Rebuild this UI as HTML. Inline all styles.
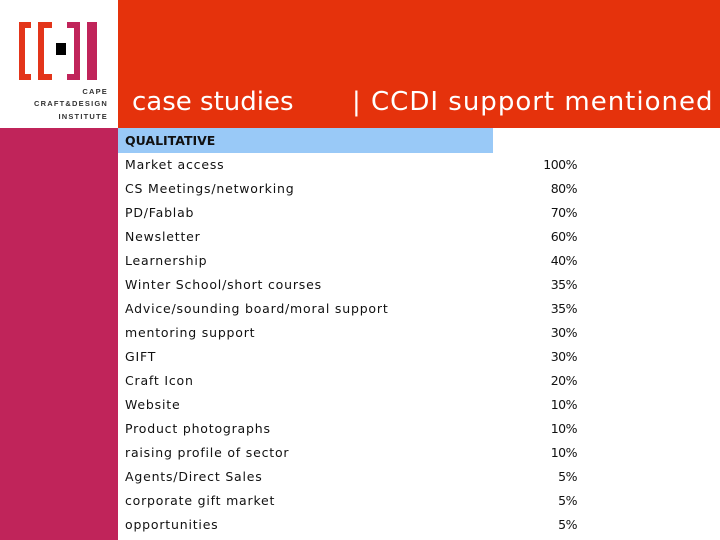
<!DOCTYPE html>
<html><head><meta charset="utf-8"><style>
body{margin:0;width:720px;height:540px;position:relative;overflow:hidden;background:#fff;font-family:"DejaVu Sans",sans-serif}
.abs{position:absolute}
.row{position:absolute;left:125px;width:452px;height:24px;font-size:12.5px;color:#111;line-height:24px;letter-spacing:0.8px}
.row .v{position:absolute;right:0;top:0;letter-spacing:-0.5px}
</style></head><body>
<div class="abs" style="left:0;top:0;width:118px;height:128px;background:#fff">
 <svg width="118" height="128">
  <path d="M19 22h12v6h-6v46h6v6h-12z" fill="#e3351a"/>
  <path d="M38 22h14v6h-8v46h8v6h-14z" fill="#e3351a"/>
  <rect x="56" y="43" width="10" height="12" fill="#000"/>
  <path d="M67 22h13v58h-13v-6h7v-46h-7z" fill="#c0245a"/>
  <rect x="87" y="22" width="10" height="58" fill="#c0245a"/>
  <g font-size="7.5" fill="#333" text-anchor="end" letter-spacing="1.2" font-family="Liberation Sans" font-weight="bold">
   <text x="108" y="94">CAPE</text>
   <text x="108" y="106">CRAFT&amp;DESIGN</text>
   <text x="108" y="119">INSTITUTE</text>
  </g>
 </svg>
</div>
<div class="abs" style="left:118px;top:0;width:602px;height:128px;background:#e5320c"></div>
<div class="abs" style="left:132px;top:87px;color:#fff;font-size:26px;white-space:nowrap">case studies</div>
<div class="abs" style="left:352px;top:87px;color:#fff;font-size:26px;white-space:nowrap;letter-spacing:1px">| CCDI support mentioned</div>
<div class="abs" style="left:0;top:128px;width:118px;height:412px;background:#c0245a"></div>
<div class="abs" style="left:118px;top:128px;width:375px;height:25px;background:#99c9f7;font-size:12.5px;font-weight:bold;line-height:25px;padding-left:7px;box-sizing:border-box;color:#111">QUALITATIVE</div>
<div id="rows"></div>
<script>
const labels=["Market access","CS Meetings/networking","PD/Fablab","Newsletter","Learnership","Winter School/short courses","Advice/sounding board/moral support","mentoring support","GIFT","Craft Icon","Website","Product photographs","raising profile of sector","Agents/Direct Sales","corporate gift market","opportunities"];
const values=[100,80,70,60,40,35,35,30,30,20,10,10,10,5,5,5];
const c=document.getElementById('rows');
labels.forEach((l,i)=>{
 const r=document.createElement('div');r.className='row';r.style.top=(153+i*24)+'px';
 
 
 r.innerHTML='<span>'+l+'</span><span class="v">'+values[i]+'%</span>';
 c.appendChild(r);
});
</script>
</body></html>
